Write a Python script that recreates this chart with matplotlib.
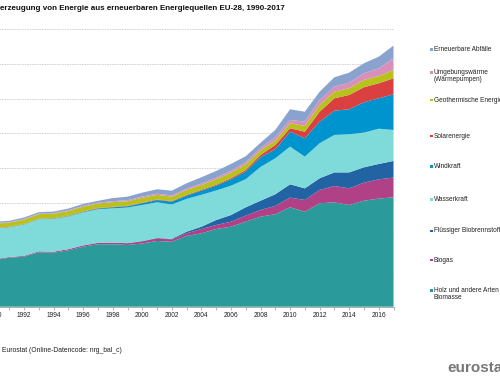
import matplotlib
matplotlib.use("Agg")
import matplotlib.pyplot as plt
from matplotlib.patches import Rectangle

plt.rcParams['font.family'] = ['Liberation Sans', 'DejaVu Sans']

years = list(range(1990, 2018))

holz = [40.4, 42.4, 43.3, 47.1, 46.7, 48.8, 51.9, 54.0, 54.0, 53.4,
        54.7, 56.9, 56.2, 61.2, 63.5, 67.2, 69.2, 73.6, 77.9, 80.0,
        86.0, 82.2, 89.5, 90.3, 88.0, 91.7, 93.5, 94.7]
biogas = [0.6, 0.6, 0.7, 0.8, 0.9, 1.0, 1.1, 1.2, 1.4, 1.5,
          1.8, 2.3, 2.0, 2.3, 3.7, 3.5, 4.3, 5.2, 5.8, 7.2,
          8.4, 10.1, 11.5, 14.1, 14.4, 15.6, 16.7, 17.0]
fluessig = [0.0, 0.0, 0.0, 0.0, 0.0, 0.0, 0.1, 0.1, 0.1, 0.1,
            0.3, 0.3, 0.5, 1.4, 2.0, 4.3, 5.8, 7.2, 8.0, 10.1,
            11.5, 10.1, 10.1, 11.8, 13.8, 13.3, 13.3, 14.4]
wasser = [26.7, 25.7, 27.1, 27.8, 28.3, 28.4, 28.6, 29.0, 29.6, 30.8,
          31.2, 30.8, 29.7, 28.4, 27.6, 25.5, 25.4, 24.3, 29.2, 31.1,
          32.6, 27.4, 30.3, 32.4, 33.0, 30.0, 30.5, 26.8]
wind = [0.1, 0.1, 0.2, 0.2, 0.3, 0.3, 0.4, 0.6, 0.9, 1.1,
        1.5, 2.0, 2.5, 2.8, 3.6, 4.2, 5.5, 6.6, 8.4, 7.8,
        12.9, 15.9, 18.7, 21.0, 21.6, 26.3, 26.3, 30.9]
solar = [0.3, 0.3, 0.3, 0.3, 0.3, 0.3, 0.4, 0.4, 0.4, 0.4,
         0.5, 0.5, 0.5, 0.6, 0.7, 0.8, 1.0, 1.4, 2.0, 3.7,
         3.0, 5.7, 8.6, 10.7, 12.4, 13.0, 13.0, 13.8]
geo = [3.6, 3.7, 3.8, 3.9, 3.9, 4.0, 4.1, 4.0, 4.1, 3.9,
       4.3, 3.9, 3.8, 4.3, 4.2, 4.7, 4.8, 4.8, 4.0, 3.7,
       4.3, 5.0, 5.8, 5.8, 5.8, 6.3, 6.3, 7.2]
umgebung = [0.4, 0.4, 0.5, 0.5, 0.5, 0.6, 0.6, 0.7, 0.8, 0.9,
            1.0, 1.1, 1.1, 1.2, 1.3, 1.4, 1.6, 1.8, 2.0, 3.0,
            2.9, 3.7, 4.4, 4.3, 4.8, 5.8, 6.7, 10.2]
abfaelle = [1.4, 1.1, 1.3, 1.2, 1.4, 1.5, 1.7, 1.6, 2.7, 3.1,
            3.4, 3.8, 4.1, 4.6, 5.4, 5.8, 5.9, 5.3, 4.5, 6.3,
            9.2, 8.6, 7.1, 8.1, 8.7, 8.6, 10.0, 10.9]

series = [holz, biogas, fluessig, wasser, wind, solar, geo, umgebung, abfaelle]
labels = ["Holz und andere Arten fester\nBiomasse", "Biogas", "Flüssiger Biobrennstoffe",
          "Wasserkraft", "Windkraft", "Solarenergie", "Geothermische Energie",
          "Umgebungswärme\n(Wärmepumpen)", "Erneuerbare Abfälle"]
colors = ['#2a9b9a', '#b04186', '#2264a3', '#7edbd9', '#0094cf',
          '#d9403f', '#b7c21d', '#d890bb', '#8aa3ce']

grid_values = [30, 60, 90, 120, 150, 180, 210, 240]
xtick_labels = list(range(1990, 2017, 2))

W, H = 500, 383
fig = plt.figure(figsize=(5.0, 3.83), dpi=100)
ax_left, ax_right = -5.5, 393.5
ax_top, ax_bottom = 29.3, 306.7
ax = fig.add_axes([ax_left / W, 1 - ax_bottom / H, (ax_right - ax_left) / W,
                   (ax_bottom - ax_top) / H])

for gv in grid_values:
    ax.axhline(gv, color='#cfcfcf', lw=0.6, ls=(0, (2, 1)), zorder=0)

ax.stackplot(years, *series, colors=colors, linewidth=0, zorder=2)
ax.set_xlim(1990, 2017)
ax.set_ylim(0, 240)

for s in ['top', 'right', 'left']:
    ax.spines[s].set_visible(False)
ax.spines['bottom'].set_color('#a0a0a0')
ax.spines['bottom'].set_linewidth(0.6)
ax.set_yticks([])
ax.set_xticks(xtick_labels)
ax.set_xticklabels([str(y) for y in xtick_labels], fontsize=4.8, color='#222222')
ax.set_xticks(years, minor=True)
ax.tick_params(axis='x', which='both', length=2, width=0.5, color='#999999', pad=2)

fig.text(0 / W, 1 - 8.3 / H,
         "erzeugung von Energie aus erneuerbaren Energiequellen EU-28, 1990-2017",
         fontsize=5.8, fontweight='bold', ha='left', va='center', color='#111111')

fig.text(1.5 / W, 1 - 350 / H, "Eurostat (Online-Datencode: nrg_bal_c)",
         fontsize=4.9, ha='left', va='center', color='#222222')

fig.text(447 / W, 1 - 368 / H, "eurostat", fontsize=11, fontweight='bold',
         ha='left', va='center', color='#777777')

legend_y = [290.7, 260, 231, 199.3, 166.7, 136, 100, 72.7, 49.3]
for lab, col, yc in zip(labels, colors, legend_y):
    fig.patches.append(Rectangle(((430) / W, 1 - (yc + 1.3) / H), 2.6 / W, 2.6 / H,
                                 transform=fig.transFigure, facecolor=col,
                                 edgecolor='none', figure=fig))
    if "\n" in lab:
        fig.text(434 / W, 1 - (yc - 3.4) / H, lab, fontsize=4.7, ha='left', va='top',
                 linespacing=1.0, color='#222222')
    else:
        fig.text(434 / W, 1 - yc / H, lab, fontsize=4.7, ha='left', va='center',
                 color='#222222')

fig.savefig("out.png", dpi=100)
